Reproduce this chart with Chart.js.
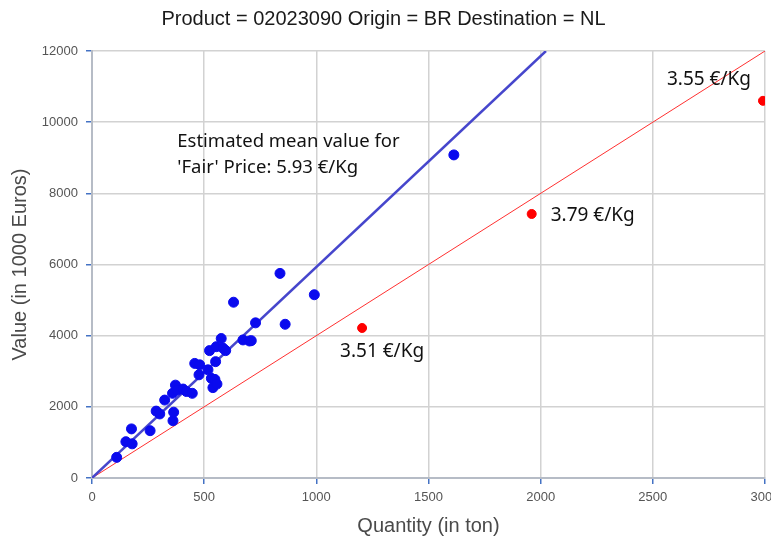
<!DOCTYPE html>
<html>
<head>
<meta charset="utf-8">
<script src="https://cdn.jsdelivr.net/npm/chart.js@4.4.1/dist/chart.umd.min.js"></script>
<style>
  html, body { margin: 0; padding: 0; background: #fff; }
  #wrap { width: 771px; height: 542px; }
</style>
</head>
<body>
<div id="wrap"><canvas id="priceChart" width="771" height="542"></canvas></div>
<script>
// quantity (ton) / value (1000 euros) of the shipments
var quantity = [110, 151, 179, 176, 259, 286, 302, 324, 361, 364, 359, 372, 381, 406, 421, 447,
    458, 480, 477, 517, 524, 532, 551, 554, 548, 539, 557, 576, 584, 596, 631, 673, 702, 710,
    729, 838, 861, 991, 1613];
var value = [580, 1020, 960, 1380, 1330, 1880, 1800, 2190, 1610, 1850, 2380, 2610, 2470, 2500, 2430, 2380,
    3220, 3180, 2900, 3040, 3580, 2800, 3270, 3690, 2770, 2540, 2640, 3920, 3650, 3580, 4940, 3880, 3850, 3860,
    4360, 5750, 4320, 5150, 9080];

// outliers below the fair price
var outQty = [1204, 1960, 2991];
var outValue = [4216, 7420, 10600];
var outLabels = ['3.51 €/Kg', '3.79 €/Kg', '3.55 €/Kg'];

var fairPrice = 5.93;   // €/Kg
var refPrice = 4;       // red reference line
var xTicks = [0, 3000, 500];
var yTicks = [0, 12000, 2000];

var bluePts = quantity.map(function (q, i) { return { x: q, y: value[i] }; });
var redPts = outQty.map(function (q, i) { return { x: q, y: outValue[i] }; });
var fairLine = [{ x: 0, y: 0 }, { x: yTicks[1] / fairPrice, y: yTicks[1] }];
var refLine = [{ x: 0, y: 0 }, { x: xTicks[1], y: xTicks[1] * refPrice }];

var arial = '"Liberation Sans", Arial';

// text labels on the plot
const labelPlugin = {
    id: 'priceLabels',
    afterDatasetsDraw: function (chart) {
        const { ctx } = chart;
        const xs = chart.scales.x, ys = chart.scales.y;
        ctx.save();
        ctx.fillStyle = '#111';
        ctx.font = '19px "Noto Sans"';
        ctx.textBaseline = 'middle';
        // offsets of each label from its point
        var offs = [[-22, 24], [19, 2], [-96, -21]];
        for (var i = 0; i < outQty.length; i++) {
            var px = xs.getPixelForValue(outQty[i]);
            var py = ys.getPixelForValue(outValue[i]);
            ctx.fillText(outLabels[i], px + offs[i][0], py + offs[i][1]);
        }
        ctx.font = '18.5px "Noto Sans"';
        ctx.fillText('Estimated mean value for', xs.getPixelForValue(380), ys.getPixelForValue(9450));
        ctx.fillText("'Fair' Price: " + fairPrice.toFixed(2) + ' €/Kg', xs.getPixelForValue(380), ys.getPixelForValue(8720));
        ctx.restore();
    }
};

var config = {
    type: 'scatter',
    data: {
        datasets: [
            {
                data: bluePts,
                backgroundColor: '#0a0aee',
                borderColor: '#0a0aee',
                pointRadius: 5,
                order: 1
            },
            {
                data: redPts,
                backgroundColor: '#ff0000',
                borderColor: '#ff0000',
                pointRadius: 4.5,
                order: 1
            },
            {
                type: 'line',
                data: fairLine,
                borderColor: '#4646cc',
                borderWidth: 2.5,
                pointRadius: 0,
                order: 2
            },
            {
                type: 'line',
                data: refLine,
                borderColor: '#ff3030',
                borderWidth: 1,
                pointRadius: 0,
                order: 3
            }
        ]
    },
    options: {
        responsive: false,
        animation: false,
        layout: { padding: { left: 0, right: 4, top: 0, bottom: 0 } },
        plugins: {
            legend: { display: false },
            tooltip: { enabled: false },
            title: {
                display: true,
                text: 'Product = 02023090 Origin = BR Destination = NL',
                color: '#1a1a1a',
                font: { family: arial, size: 20, weight: 'normal' },
                padding: { top: 7, bottom: 20 }
            }
        },
        scales: {
            x: {
                type: 'linear',
                min: xTicks[0],
                max: xTicks[1],
                ticks: {
                    stepSize: xTicks[2], color: '#555', font: { family: arial, size: 13 }, padding: 6,
                    callback: function (v) { return String(v); }
                },
                grid: { color: '#d2d2d2', lineWidth: 1.5, tickColor: '#4472c4', tickLength: 6 },
                border: { color: '#b6bcc6', width: 2 },
                title: { display: true, text: 'Quantity (in ton)', color: '#4a4a4a', font: { family: arial, size: 20 }, padding: { top: 4, bottom: 4 } },
                afterFit: function (scale) {
                    scale.height = 64;
                    scale.paddingLeft = 0;
                    scale.paddingRight = 0;
                }
            },
            y: {
                type: 'linear',
                min: yTicks[0],
                max: yTicks[1],
                ticks: {
                    stepSize: yTicks[2], color: '#555', font: { family: arial, size: 13 }, padding: 8,
                    callback: function (v) { return String(v); }
                },
                grid: { color: '#d2d2d2', lineWidth: 1.5, tickColor: '#4472c4', tickLength: 6 },
                border: { color: '#b6bcc6', width: 2 },
                title: { display: true, text: 'Value (in 1000 Euros)', color: '#4a4a4a', font: { family: arial, size: 20 }, padding: { top: 8, bottom: 4 } },
                afterFit: function (scale) {
                    scale.width = 92;
                    scale.paddingTop = 0;
                    scale.paddingBottom = 0;
                }
            }
        }
    },
    plugins: [labelPlugin]
};

let priceChart = new Chart(document.getElementById('priceChart'), config);
</script>
</body>
</html>
